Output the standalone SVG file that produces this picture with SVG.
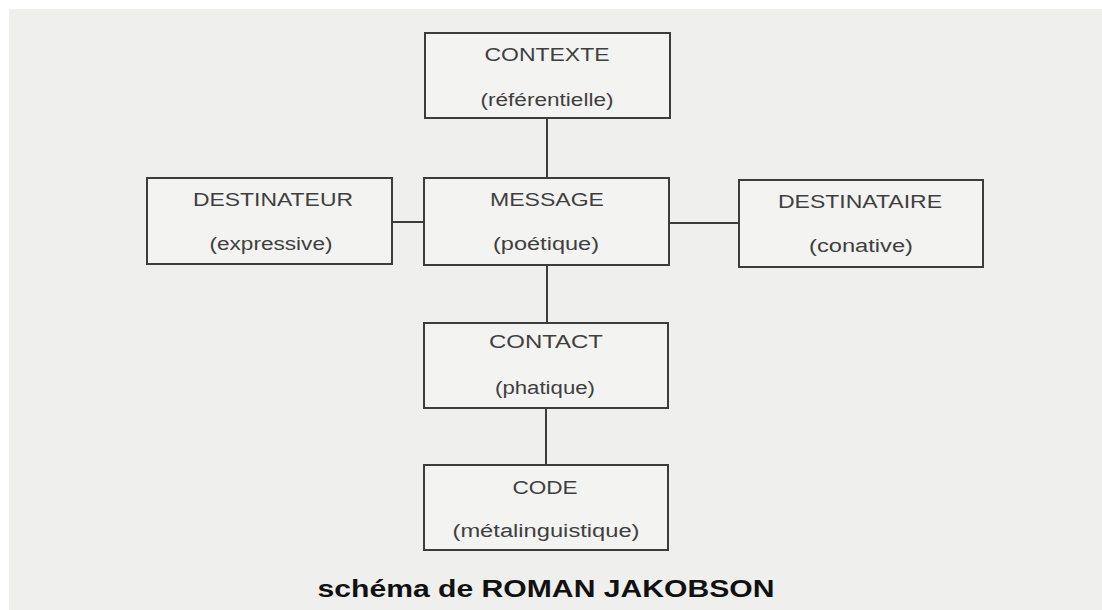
<svg xmlns="http://www.w3.org/2000/svg" width="1102" height="610" viewBox="0 0 1102 610">
<style>
.box{fill:#f3f3f1;stroke:#3c3c3c;stroke-width:2}
.lbl{font-family:"Liberation Sans",Arial,sans-serif;font-size:18px;fill:#3f3f3f;text-anchor:middle}
.conn{stroke:#3c3c3c;stroke-width:2;fill:none}
.title{font-family:"Liberation Sans",Arial,sans-serif;font-weight:700;font-size:23px;fill:#111;text-anchor:middle}
</style>
<rect x="0" y="0" width="1102" height="610" fill="#ffffff"/>
<rect x="9" y="9" width="1093" height="601" fill="#efefed"/>
<g id="connectors">
<line class="conn" x1="547" y1="118" x2="547" y2="178"/>
<line class="conn" x1="547" y1="265" x2="547" y2="323"/>
<line class="conn" x1="546" y1="408" x2="546" y2="465"/>
<line class="conn" x1="392" y1="222" x2="424" y2="222"/>
<line class="conn" x1="669" y1="223" x2="739" y2="223"/>
</g>
<g id="contexte">
<rect class="box" x="425" y="33" width="245" height="85"/>
<text class="lbl" x="547" y="61" textLength="125" lengthAdjust="spacingAndGlyphs">CONTEXTE</text>
<text class="lbl" x="547" y="106" textLength="133" lengthAdjust="spacingAndGlyphs">(référentielle)</text>
</g>
<g id="destinateur">
<rect class="box" x="147" y="178" width="245" height="86"/>
<text class="lbl" x="273" y="206" textLength="160" lengthAdjust="spacingAndGlyphs">DESTINATEUR</text>
<text class="lbl" x="271" y="250" textLength="123" lengthAdjust="spacingAndGlyphs">(expressive)</text>
</g>
<g id="message">
<rect class="box" x="424" y="178" width="245" height="87"/>
<text class="lbl" x="547" y="206" textLength="114" lengthAdjust="spacingAndGlyphs">MESSAGE</text>
<text class="lbl" x="546" y="250" textLength="106" lengthAdjust="spacingAndGlyphs">(poétique)</text>
</g>
<g id="destinataire">
<rect class="box" x="739" y="180" width="244" height="87"/>
<text class="lbl" x="860" y="208" textLength="164" lengthAdjust="spacingAndGlyphs">DESTINATAIRE</text>
<text class="lbl" x="861" y="252" textLength="104" lengthAdjust="spacingAndGlyphs">(conative)</text>
</g>
<g id="contact">
<rect class="box" x="424" y="323" width="244" height="85"/>
<text class="lbl" x="546" y="348" textLength="114" lengthAdjust="spacingAndGlyphs">CONTACT</text>
<text class="lbl" x="545" y="394" textLength="100" lengthAdjust="spacingAndGlyphs">(phatique)</text>
</g>
<g id="code">
<rect class="box" x="424" y="465" width="244" height="85"/>
<text class="lbl" x="545" y="494" textLength="65" lengthAdjust="spacingAndGlyphs">CODE</text>
<text class="lbl" x="546" y="537" textLength="187" lengthAdjust="spacingAndGlyphs">(métalinguistique)</text>
</g>
<text class="title" x="546" y="597" textLength="457" lengthAdjust="spacingAndGlyphs">schéma de ROMAN JAKOBSON</text>
</svg>
